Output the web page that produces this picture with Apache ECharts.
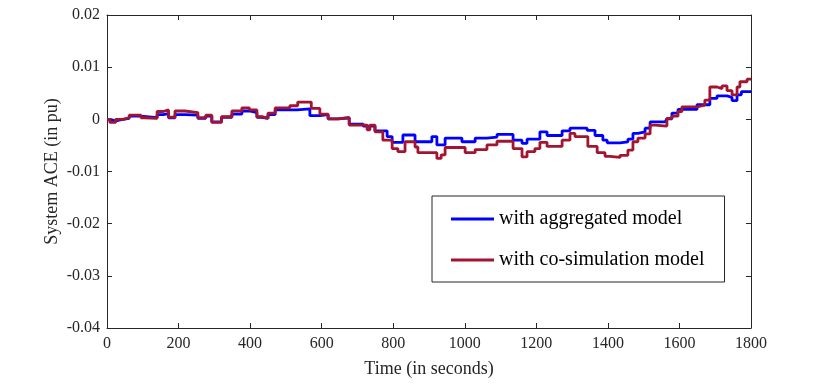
<!DOCTYPE html>
<html>
<head>
<meta charset="utf-8">
<script src="https://cdn.jsdelivr.net/npm/echarts@6/dist/echarts.min.js"></script>
<style>
  html, body { margin: 0; padding: 0; background: #fff; }
  #main { width: 830px; height: 385px; }
</style>
</head>
<body>
<div id="main"></div>
<script>
// sample-and-hold breakpoints (time in s, ACE in pu)
const aggTime = [0, 8, 24, 45, 62, 95, 140, 157, 172, 190, 218, 254, 276, 293, 320, 349, 377, 398, 419, 433, 450, 470, 531, 567, 595, 618, 646, 677, 716, 749, 783, 797, 827, 861, 908, 922, 945, 992, 1029, 1062, 1090, 1135, 1160, 1174, 1210, 1230, 1272, 1294, 1342, 1364, 1386, 1398, 1434, 1456, 1470, 1484, 1504, 1518, 1560, 1565, 1579, 1596, 1649, 1685, 1705, 1733, 1747, 1761, 1773, 1800]
const aggAce = [0, -0.0003, 0, 0.0002, 0.0006, 0.0003, 0.0009, 0.0011, 0.0003, 0.0009, 0.0008, 0.0002, 0.0006, -0.0005, 0.0004, 0.001, 0.0016, 0.0013, 0.0004, 0.0002, 0.0009, 0.0018, 0.002, 0.0007, 0.0009, 0.0001, 0.0003, -0.0009, -0.0013, -0.0022, -0.0033, -0.0044, -0.003, -0.0043, -0.0033, -0.0049, -0.0036, -0.0043, -0.0036, -0.0034, -0.0029, -0.004, -0.0046, -0.0038, -0.0024, -0.0031, -0.0022, -0.0017, -0.0021, -0.0031, -0.004, -0.0045, -0.0043, -0.0038, -0.0027, -0.0024, -0.0017, -0.0005, -0.0005, 0.0001, 0.0012, 0.0019, 0.0028, 0.004, 0.0045, 0.0042, 0.0036, 0.0047, 0.0053, 0.0053]

const cosimTime = [0, 8, 24, 45, 62, 95, 105, 140, 157, 172, 190, 218, 254, 276, 293, 320, 349, 377, 398, 419, 433, 450, 470, 511, 533, 571, 595, 618, 646, 677, 727, 735, 749, 771, 797, 813, 833, 861, 869, 922, 934, 945, 1001, 1029, 1062, 1090, 1135, 1160, 1174, 1196, 1210, 1230, 1272, 1294, 1308, 1344, 1370, 1392, 1406, 1434, 1456, 1470, 1484, 1504, 1518, 1532, 1565, 1579, 1596, 1607, 1649, 1671, 1685, 1705, 1719, 1733, 1747, 1761, 1769, 1789, 1800]
const cosimAce = [0, -0.0006, 0, 0.0003, 0.0008, 0.0003, 0.0002, 0.0015, 0.0018, 0.0004, 0.0016, 0.0013, 0.0003, 0.0008, -0.0006, 0.0005, 0.0016, 0.0022, 0.0018, 0.0005, 0.0002, 0.0012, 0.0022, 0.0026, 0.0033, 0.0021, 0.001, 0.0001, 0.0003, -0.0011, -0.002, -0.0011, -0.0024, -0.004, -0.0056, -0.0062, -0.0043, -0.0053, -0.0064, -0.0075, -0.0068, -0.0054, -0.0064, -0.0058, -0.0049, -0.0042, -0.0056, -0.0072, -0.0062, -0.0056, -0.0044, -0.0052, -0.004, -0.0027, -0.0033, -0.0052, -0.0064, -0.0071, -0.0073, -0.0069, -0.0059, -0.0043, -0.0036, -0.0028, -0.0011, -0.0013, 0.0002, 0.0006, 0.0015, 0.0024, 0.0027, 0.0037, 0.0062, 0.0059, 0.0064, 0.0055, 0.0047, 0.0062, 0.0072, 0.0077, 0.0077]

const seriesNames = ['with aggregated model', 'with co-simulation model']

const toPairs = (t, v) => t.map((x, i) => [x, v[i]])

const fontFam = '"Liberation Serif", "DejaVu Serif", serif'
const axisCol = '#262626'

const plainAxis = {
  axisLine: { show: true, onZero: false, lineStyle: { color: axisCol, width: 1 } },
  axisTick: { show: true, inside: true, length: 5, lineStyle: { color: axisCol } },
  splitLine: { show: false },
  axisLabel: { color: axisCol, fontFamily: fontFam, fontSize: 16 }
}

const chart = echarts.init(document.getElementById('main'))
chart.setOption({
  animation: false,
  backgroundColor: '#fff',
  grid: { left: 107, right: 79, top: 15, bottom: 57, containLabel: false },
  legend: {
    data: seriesNames,
    orient: 'vertical',
    left: 432,
    top: 196,
    icon: 'rect',
    itemWidth: 43,
    itemHeight: 3,
    itemGap: 21,
    padding: [13, 20, 12, 19],
    borderColor: axisCol,
    borderWidth: 1,
    backgroundColor: '#fff',
    textStyle: { fontFamily: fontFam, fontSize: 20, color: '#000', lineHeight: 20 }
  },
  xAxis: [
    Object.assign({}, plainAxis, {
      type: 'value', min: 0, max: 1800, interval: 200,
      name: 'Time (in seconds)', nameLocation: 'middle', nameGap: 32, nameMoveOverlap: false,
      nameTextStyle: { fontFamily: fontFam, fontSize: 18, color: axisCol },
      axisLabel: Object.assign({}, plainAxis.axisLabel, { margin: 8, formatter: v => String(v) })
    }),
    Object.assign({}, plainAxis, {
      type: 'value', min: 0, max: 1800, interval: 200, position: 'top',
      axisLabel: { show: false }
    })
  ],
  yAxis: [
    Object.assign({}, plainAxis, {
      type: 'value', min: -0.04, max: 0.02, interval: 0.01,
      name: 'System ACE (in pu)', nameLocation: 'middle', nameGap: 46, nameMoveOverlap: false,
      nameTextStyle: { fontFamily: fontFam, fontSize: 18, color: axisCol },
      axisLabel: Object.assign({}, plainAxis.axisLabel, { margin: 7 })
    }),
    Object.assign({}, plainAxis, {
      type: 'value', min: -0.04, max: 0.02, interval: 0.01, position: 'right',
      axisLabel: { show: false }
    })
  ],
  series: [
    {
      name: seriesNames[0], type: 'line', step: 'end', showSymbol: false, symbol: 'none',
      data: toPairs(aggTime, aggAce),
      itemStyle: { color: '#0000FF' },
      lineStyle: { color: '#0000FF', width: 2.8 }
    },
    {
      name: seriesNames[1], type: 'line', step: 'end', showSymbol: false, symbol: 'none',
      data: toPairs(cosimTime, cosimAce),
      itemStyle: { color: '#A2142F' },
      lineStyle: { color: '#A2142F', width: 2.8 }
    }
  ]
})
</script>
</body>
</html>
